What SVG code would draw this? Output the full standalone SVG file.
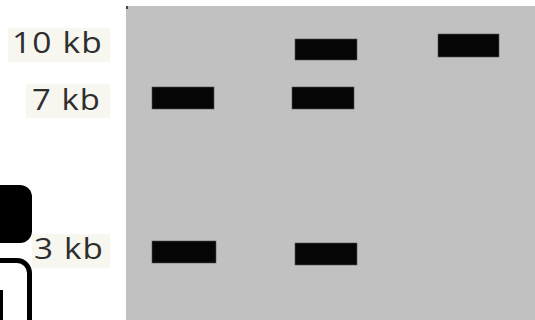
<svg xmlns="http://www.w3.org/2000/svg" width="535" height="320" viewBox="0 0 535 320">
<style>
.lbl{font-family:"Open Sans","DejaVu Sans",sans-serif;font-size:29px;fill:#2e2e2e;letter-spacing:1px}
.band{fill:#050505;stroke:#555;stroke-width:0.6}
.lbg{fill:#f7f7f0}
</style>
<rect width="535" height="320" fill="#ffffff"/>
<g id="gel">
<rect x="126" y="6" width="409" height="314" fill="#c1c1c1"/>
<rect x="126" y="6" width="2" height="3" fill="#444"/>
</g>
<g id="labels">
<rect class="lbg" x="8" y="28" width="102" height="34"/>
<text class="lbl" x="12" y="53" textLength="91" lengthAdjust="spacingAndGlyphs">10 kb</text>
<rect class="lbg" x="26" y="84" width="84" height="34"/>
<text class="lbl" x="32" y="110" textLength="69" lengthAdjust="spacingAndGlyphs">7 kb</text>
<rect class="lbg" x="32" y="234" width="78" height="34"/>
<text class="lbl" x="34" y="259" textLength="70" lengthAdjust="spacingAndGlyphs">3 kb</text>
</g>
<g id="lane1">
<rect class="band" x="152" y="87" width="62" height="22"/>
<rect class="band" x="152" y="241" width="64" height="22"/>
</g>
<g id="lane2">
<rect class="band" x="295" y="39" width="62" height="21"/>
<rect class="band" x="292" y="87" width="62" height="22"/>
<rect class="band" x="295" y="243" width="62" height="22"/>
</g>
<g id="lane3">
<rect class="band" x="438" y="34" width="61" height="23"/>
</g>
<g id="edge-shapes">
<path d="M-10 185 H20 A12 12 0 0 1 32 197 V231 A12 12 0 0 1 20 243 H-10 Z" fill="#000"/>
<path d="M-10 260.5 H17 A12.5 12.5 0 0 1 29.5 273 V325" fill="none" stroke="#000" stroke-width="5"/>
<rect x="0" y="290" width="3" height="30" fill="#000"/>
</g>
</svg>
